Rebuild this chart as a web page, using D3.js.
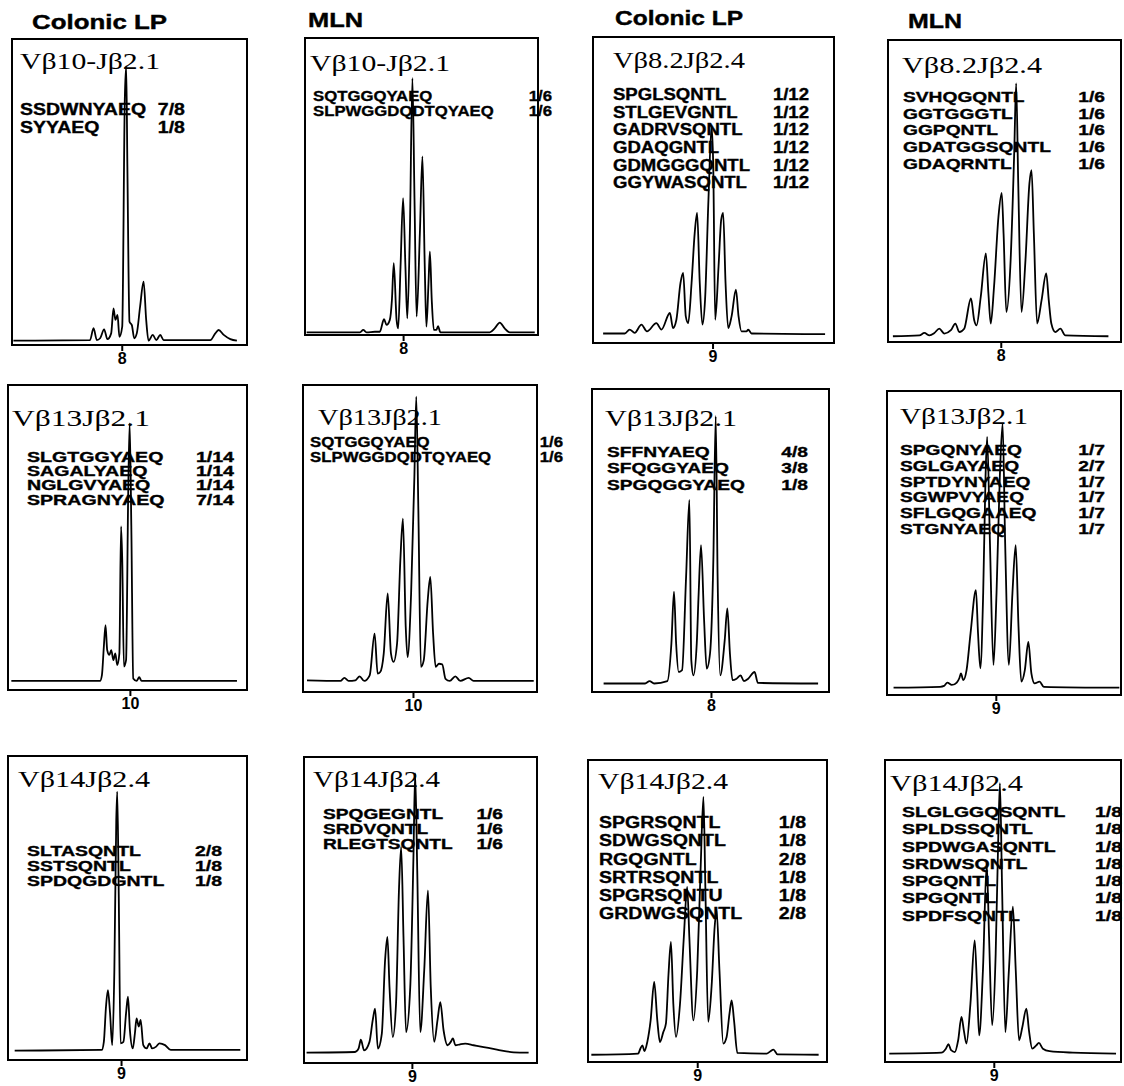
<!DOCTYPE html>
<html>
<head>
<meta charset="utf-8">
<script src="https://cdn.jsdelivr.net/npm/d3@7"></script>
<style>
  body { margin: 0; background: #fff; }
</style>
</head>
<body>
<svg id="chart" width="1124" height="1086"></svg>
<script>
// column headers (first row only)
const columns = ["Colonic LP", "MLN", "Colonic LP", "MLN"]

const titles = [
  "Vβ10-Jβ2.1", "Vβ10-Jβ2.1", "Vβ8.2Jβ2.4", "Vβ8.2Jβ2.4",
  "Vβ13Jβ2.1", "Vβ13Jβ2.1", "Vβ13Jβ2.1", "Vβ13Jβ2.1",
  "Vβ14Jβ2.4", "Vβ14Jβ2.4", "Vβ14Jβ2.4", "Vβ14Jβ2.4"
]

// CDR3 length label and where it sits on the scan axis (0-100)
const tickLabels = ["8", "8", "9", "8", "10", "10", "8", "9", "9", "9", "9", "9"]
const tickValues = [46.7, 42.1, 49.6, 48.4, 51.0, 47.0, 50.2, 46.5, 47.3, 46.3, 45.7, 46.1]

// sequenced clones: [CDR3, frequency]
const clones = [
  [["SSDWNYAEQ", "7/8"], ["SYYAEQ", "1/8"]],
  [["SQTGGQYAEQ", "1/6"], ["SLPWGGDQDTQYAEQ", "1/6"]],
  [["SPGLSQNTL", "1/12"], ["STLGEVGNTL", "1/12"], ["GADRVSQNTL", "1/12"],
   ["GDAQGNTL", "1/12"], ["GDMGGGQNTL", "1/12"], ["GGYWASQNTL", "1/12"]],
  [["SVHQGQNTL", "1/6"], ["GGTGGGTL", "1/6"], ["GGPQNTL", "1/6"],
   ["GDATGGSQNTL", "1/6"], ["GDAQRNTL", "1/6"]],
  [["SLGTGGYAEQ", "1/14"], ["SAGALYAEQ", "1/14"], ["NGLGVYAEQ", "1/14"], ["SPRAGNYAEQ", "7/14"]],
  [["SQTGGQYAEQ", "1/6"], ["SLPWGGDQDTQYAEQ", "1/6"]],
  [["SFFNYAEQ", "4/8"], ["SFQGGYAEQ", "3/8"], ["SPGQGGYAEQ", "1/8"]],
  [["SPGQNYAEQ", "1/7"], ["SGLGAYAEQ", "2/7"], ["SPTDYNYAEQ", "1/7"],
   ["SGWPVYAEQ", "1/7"], ["SFLGQGAAEQ", "1/7"], ["STGNYAEQ", "1/7"]],
  [["SLTASQNTL", "2/8"], ["SSTSQNTL", "1/8"], ["SPDQGDGNTL", "1/8"]],
  [["SPQGEGNTL", "1/6"], ["SRDVQNTL", "1/6"], ["RLEGTSQNTL", "1/6"]],
  [["SPGRSQNTL", "1/8"], ["SDWGSQNTL", "1/8"], ["RGQGNTL", "2/8"],
   ["SRTRSQNTL", "1/8"], ["SPGRSQNTU", "1/8"], ["GRDWGSQNTL", "2/8"]],
  [["SLGLGGQSQNTL", "1/8"], ["SPLDSSQNTL", "1/8"], ["SPDWGASQNTL", "1/8"],
   ["SRDWSQNTL", "1/8"], ["SPGQNTL", "1/8"], ["SPGQNTL", "1/8"], ["SPDFSQNTL", "1/8"]]
]

// spectratype traces: [scan position 0-100, signal 0-100]
const traces = [
  [[0.6,1.4],[33.2,1.6],[34.7,5.5],[36.1,1.6],[37.5,2.2],[39.2,5.1],[40.6,1.9],[42.2,3.8],[43.2,12.0],[44.0,8.2],[44.9,9.8],[45.7,2.7],[46.9,6.0],[48.0,80.2],[48.6,91.1],[49.1,58.3],[50.0,7.6],[51.0,6.5],[52.0,2.2],[53.1,3.8],[54.5,12.5],[56.0,20.7],[57.1,8.2],[58.1,1.4],[59.9,3.3],[61.4,1.6],[63.1,3.3],[64.5,1.6],[84.4,1.6],[86.5,3.8],[87.9,4.9],[90.1,3.3],[92.9,1.9],[95.7,1.4]],
  [[0.7,0.9],[23.6,0.9],[25.0,1.7],[26.4,0.9],[30.0,1.1],[32.1,1.1],[33.9,5.3],[35.0,3.4],[36.4,5.1],[37.3,11.8],[38.1,24.2],[39.3,5.1],[40.0,2.2],[41.0,23.0],[42.1,46.1],[43.1,23.0],[43.9,5.6],[45.0,34.3],[46.1,86.5],[47.0,45.5],[47.9,6.2],[49.3,34.3],[50.4,60.1],[51.4,23.0],[52.1,2.8],[53.0,17.4],[53.6,28.1],[54.4,11.8],[55.3,1.7],[56.4,1.7],[57.1,3.0],[58.1,0.9],[79.3,0.9],[81.4,2.2],[83.6,4.2],[85.7,2.2],[87.9,0.9],[98.6,0.9]],
  [[4.2,3.1],[13.2,3.1],[15.2,4.4],[17.3,3.3],[20.1,6.0],[22.4,3.8],[26.3,6.5],[28.4,4.4],[31.9,9.8],[33.2,4.9],[34.6,7.6],[36.3,19.6],[37.4,22.9],[38.5,8.7],[39.5,6.5],[40.9,19.6],[42.2,35.9],[43.2,42.5],[44.3,19.6],[45.4,6.0],[46.5,14.2],[47.9,46.8],[49.2,70.8],[49.9,57.7],[50.7,7.6],[52.1,25.1],[53.2,40.3],[54.0,42.5],[55.0,19.6],[56.1,4.9],[57.5,8.7],[59.3,17.4],[60.4,8.7],[61.6,3.8],[63.7,3.8],[64.4,4.4],[65.8,3.1],[96.3,2.9]],
  [[2.1,1.9],[13.5,2.2],[15.6,3.0],[17.8,2.2],[19.9,3.0],[22.0,4.4],[24.2,2.8],[27.0,3.9],[28.9,6.1],[30.6,3.3],[32.7,4.4],[35.6,14.4],[37.0,7.2],[38.0,5.5],[39.8,14.9],[42.0,29.3],[43.1,16.0],[44.1,6.1],[45.5,18.2],[47.4,41.4],[48.8,49.4],[49.6,35.9],[50.8,9.9],[52.5,24.9],[54.2,63.5],[55.0,85.6],[55.9,52.5],[57.3,9.9],[59.0,27.1],[60.7,52.5],[61.6,56.9],[62.6,35.9],[64.0,6.1],[65.9,13.8],[67.9,22.7],[69.0,13.8],[70.1,6.1],[71.8,3.3],[74.0,4.4],[76.1,2.2],[94.6,1.9]],
  [[1.4,3.0],[38.5,3.0],[39.3,4.9],[40.1,14.2],[40.8,21.3],[41.5,13.1],[42.4,11.5],[43.2,13.1],[44.1,9.8],[44.9,12.0],[45.7,8.2],[46.6,12.0],[47.3,53.6],[47.8,42.6],[48.5,7.7],[49.4,9.8],[50.3,64.5],[50.9,87.4],[51.6,53.6],[52.4,3.8],[53.8,3.0],[54.9,4.2],[55.9,3.0],[95.8,3.0]],
  [[1.7,3.8],[16.0,3.6],[17.7,4.6],[19.5,3.6],[22.4,3.8],[24.2,5.1],[26.2,3.6],[28.5,5.4],[30.6,19.0],[31.9,6.0],[33.0,6.5],[34.5,12.5],[36.2,32.1],[37.6,12.5],[38.7,9.8],[40.2,15.8],[41.6,42.9],[42.7,56.5],[43.9,21.2],[44.7,11.4],[46.2,32.1],[47.6,70.1],[48.4,96.2],[49.3,59.2],[50.4,8.2],[51.6,10.3],[53.3,29.9],[54.4,37.5],[55.6,19.0],[56.7,8.2],[58.1,9.2],[59.5,9.0],[60.9,4.3],[62.7,3.6],[65.1,5.1],[67.2,3.6],[70.8,4.6],[72.9,3.6],[98.6,3.6]],
  [[4.9,2.8],[22.4,2.8],[24.3,3.6],[26.2,2.8],[31.8,3.6],[33.5,16.0],[34.6,33.1],[35.5,16.0],[36.6,6.6],[38.0,7.2],[39.7,38.0],[41.1,63.4],[41.9,10.5],[42.8,5.5],[44.2,16.0],[45.0,32.5],[46.0,48.5],[47.3,23.7],[48.4,7.7],[49.8,12.7],[51.2,43.6],[52.2,91.0],[53.0,38.0],[54.1,5.5],[56.0,17.1],[57.1,27.6],[58.2,12.7],[59.3,3.9],[61.0,4.4],[62.7,5.5],[64.1,3.6],[65.9,4.4],[68.6,6.6],[70.0,3.0],[95.4,2.8]],
  [[2.8,2.4],[22.7,2.7],[24.4,3.0],[25.8,4.1],[27.7,3.3],[29.8,4.1],[30.9,5.5],[31.6,7.1],[32.6,4.9],[34.0,8.2],[35.7,20.3],[38.0,34.5],[38.9,20.3],[39.9,8.8],[41.1,33.4],[42.1,71.5],[42.8,84.9],[44.0,49.8],[45.5,9.9],[46.8,33.4],[48.2,71.5],[49.4,89.3],[50.5,49.8],[52.1,9.9],[53.6,33.4],[55.0,49.3],[56.2,22.5],[57.4,4.4],[58.9,8.2],[60.4,17.5],[61.7,7.1],[63.1,3.8],[65.2,4.4],[67.0,2.7],[99.3,2.4]],
  [[2.8,3.1],[39.2,3.3],[40.1,6.0],[41.0,17.5],[41.8,23.0],[42.7,15.4],[43.6,4.9],[44.5,29.6],[45.3,78.9],[45.7,88.3],[46.3,57.0],[47.1,5.5],[48.3,6.0],[49.4,15.4],[50.2,20.8],[51.0,9.9],[52.2,3.8],[53.1,8.8],[53.8,13.7],[54.7,11.0],[55.5,13.2],[56.6,4.9],[58.0,3.8],[59.2,5.5],[60.3,3.8],[62.0,4.4],[63.4,5.5],[65.7,4.9],[68.1,3.3],[97.2,3.3]],
  [[1.1,3.4],[21.9,3.6],[23.4,4.7],[24.4,7.6],[25.8,4.1],[28.1,6.9],[29.5,14.0],[30.5,17.8],[31.7,4.7],[33.4,9.6],[34.8,33.6],[35.8,41.2],[36.7,24.8],[38.1,8.5],[39.5,19.4],[40.8,57.5],[41.7,70.6],[42.7,41.2],[43.8,10.1],[45.6,24.8],[47.0,68.4],[47.7,94.6],[48.6,63.0],[49.9,10.1],[51.6,30.3],[53.2,56.4],[54.4,24.8],[55.9,6.9],[57.3,14.0],[58.5,19.9],[59.9,10.7],[61.6,5.8],[63.0,6.9],[63.9,8.0],[65.0,5.8],[67.0,6.1],[69.2,6.3],[72.8,5.8],[77.1,5.2],[82.8,4.4],[90.0,3.5],[96.4,3.4]],
  [[1.4,2.4],[21.0,2.8],[21.9,4.4],[22.8,5.5],[23.6,3.6],[24.8,6.6],[26.2,13.8],[27.7,26.5],[29.0,13.8],[30.1,6.6],[31.5,9.9],[32.6,12.7],[33.7,29.3],[34.7,39.8],[35.7,19.3],[36.8,8.3],[38.5,19.3],[40.1,41.4],[41.5,58.0],[42.4,41.4],[44.1,13.8],[45.7,30.4],[47.1,63.5],[48.3,87.8],[49.1,58.0],[50.3,13.3],[51.7,24.9],[53.0,44.8],[53.8,50.3],[55.0,30.4],[56.6,6.1],[58.0,8.3],[59.2,16.0],[60.1,20.4],[61.1,13.8],[62.5,3.0],[74.8,2.8],[76.2,3.5],[77.6,4.1],[79.3,2.5],[96.5,2.4]],
  [[1.8,2.8],[23.9,3.1],[25.8,4.4],[26.9,5.9],[28.0,3.9],[29.6,3.3],[31.0,7.2],[32.4,14.9],[33.4,10.5],[34.5,6.1],[36.2,19.3],[38.0,40.3],[39.0,24.9],[39.9,8.8],[41.5,30.4],[43.1,65.7],[44.1,41.4],[45.4,12.2],[46.9,35.9],[48.0,74.6],[48.7,92.3],[49.6,58.0],[51.0,9.9],[52.5,30.4],[54.2,51.4],[55.4,30.4],[56.8,7.2],[58.2,11.6],[59.9,17.7],[61.0,10.5],[62.4,4.4],[64.1,5.5],[65.2,6.3],[66.9,4.4],[69.7,3.6],[79.6,3.1],[97.9,2.8]]
]

// ---- layout (pixels) ----
// plot frame of each panel: [left, top, right, bottom]
const frames = [
  [12, 39, 247, 345], [305, 38, 538, 335], [593, 37, 834, 343], [888, 40, 1121, 342],
  [8, 385, 247, 690], [303, 385, 537, 692], [592, 389, 829, 692], [887, 391, 1121, 695],
  [8, 756, 247, 1060], [304, 757, 537, 1063], [588, 760, 827, 1062], [885, 760, 1121, 1062]
]
// title: x, baseline, width
const titleLayout = [
  [20, 69, 140], [310, 71, 140], [613, 68, 132], [902, 73, 140],
  [12, 426, 138], [318, 425, 124], [605, 426, 132], [900, 424, 128],
  [18, 787, 132], [313, 787, 127], [598, 789, 130], [890, 791, 133]
]
// clone list: name x, fraction right edge, first baseline, line step, font size, x stretch
const listLayout = [
  [20, 185, 115, 18, 16, 1.22], [313, 552, 101, 15.5, 15.5, 1.08],
  [613, 809, 100, 17.7, 16, 1.16], [903, 1105, 102, 16.7, 15.5, 1.24],
  [27, 234, 462, 14.2, 14, 1.4], [310, 563, 447, 15, 15, 1.12],
  [607, 808, 457, 16.5, 15, 1.28], [900, 1105, 455, 15.8, 15, 1.28],
  [27, 222, 856, 15, 15, 1.3], [323, 503, 819, 15.2, 14.5, 1.32],
  [599, 806, 828, 18.3, 17, 1.15], [902, 1122, 817, 17.3, 15, 1.3]
]
// header: x, baseline, width
const headerLayout = [[32, 29, 135], [308, 27, 55], [615, 25, 128], [908, 28, 54]]

const svg = d3.select("#chart")
const sans = "'Liberation Sans', Arial, sans-serif"
const serif = "'Liberation Serif', 'Times New Roman', serif"

// HEADERS
svg.selectAll("text.header")
  .data(columns)
  .join("text")
    .attr("class", "header")
    .attr("x", (d, i) => headerLayout[i][0])
    .attr("y", (d, i) => headerLayout[i][1])
    .attr("textLength", (d, i) => headerLayout[i][2])
    .attr("lengthAdjust", "spacingAndGlyphs")
    .style("font", `bold 20px ${sans}`)
    .attr("stroke", "#000")
    .attr("stroke-width", 0.4)
    .text(d => d)

titles.forEach((title, i) => {
  const [l, t, r, b] = frames[i]
  const x = d3.scaleLinear([0, 100], [l, r])
  const y = d3.scaleLinear([0, 100], [b, t])
  const g = svg.append("g")

  // frame
  g.append("rect")
    .attr("x", l).attr("y", t)
    .attr("width", r - l).attr("height", b - t)
    .attr("fill", "none")
    .attr("stroke", "#000")
    .attr("stroke-width", 2)

  // title
  const tl = titleLayout[i]
  g.append("text")
    .attr("x", tl[0]).attr("y", tl[1])
    .attr("textLength", tl[2])
    .attr("lengthAdjust", "spacingAndGlyphs")
    .style("font", `24px ${serif}`)
    .text(title)

  // clone list
  const [nx, fr, y0, step, fs, sx] = listLayout[i]
  const list = g.append("g")
    .attr("transform", `translate(${nx},0) scale(${sx},1)`)
    .style("font", `bold ${fs}px ${sans}`)
    .attr("stroke", "#000")
    .attr("stroke-width", 0.35)
  list.selectAll("text.name")
    .data(clones[i])
    .join("text")
      .attr("class", "name")
      .attr("x", 0)
      .attr("y", (d, j) => y0 + j * step)
      .text(d => d[0])
  list.selectAll("text.freq")
    .data(clones[i])
    .join("text")
      .attr("class", "freq")
      .attr("x", (fr - nx) / sx)
      .attr("y", (d, j) => y0 + j * step)
      .attr("text-anchor", "end")
      .text(d => d[1])

  // trace
  const line = d3.line()
    .x(d => x(d[0]))
    .y(d => y(d[1]))
    .curve(d3.curveMonotoneX)
  g.append("path")
    .datum(traces[i])
    .attr("d", line)
    .attr("fill", "none")
    .attr("stroke", "#000")
    .attr("stroke-width", 1.8)
    .attr("stroke-linejoin", "round")

  // CDR3 length tick
  const axis = g.append("g")
    .attr("transform", `translate(0,${b})`)
    .call(d3.axisBottom(x)
      .tickValues([tickValues[i]])
      .tickFormat(() => tickLabels[i])
      .tickSize(6)
      .tickPadding(2))
  axis.select(".domain").remove()
  axis.selectAll(".tick line").attr("stroke", "#000").attr("stroke-width", 2)
  axis.selectAll(".tick text")
    .attr("fill", "#000")
    .style("font", `bold 16px ${sans}`)
})
</script>
</body>
</html>
